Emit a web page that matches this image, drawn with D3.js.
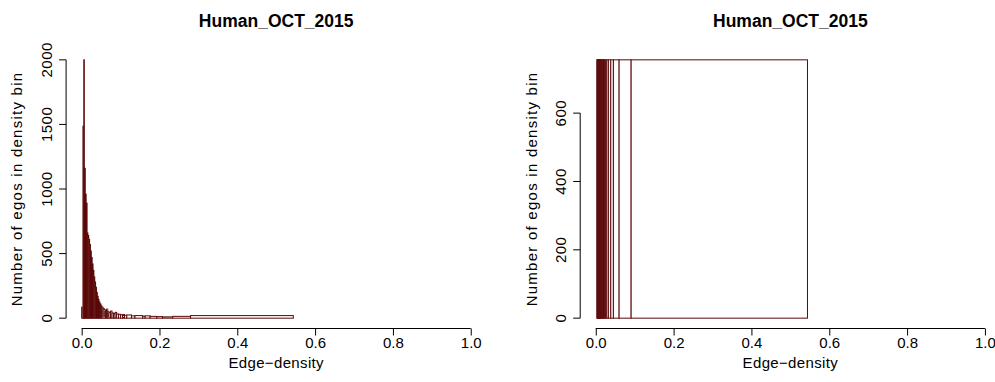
<!DOCTYPE html>
<html>
<head>
<meta charset="utf-8">
<script src="https://cdn.jsdelivr.net/npm/d3@7"></script>
<style>
  html, body { margin: 0; padding: 0; background: #fff; }
  svg { display: block; }
  text { font-family: "Liberation Sans", Arial, sans-serif; fill: #000; }
</style>
</head>
<body>
<svg id="chart" width="995" height="382"></svg>
<script>
// Ego edge-density histograms (Human_OCT_2015)
const chartTitle = "Human_OCT_2015";
const xLabel = "Edge\u2212density";
const yLabel = "Number of egos in density bin";
const xTicks = [0, 0.2, 0.4, 0.6, 0.8, 1.0];

// Left panel: fine bins near zero, widening in the tail
const leftBreaks = [0, 0.0033, 0.0054, 0.0069, 0.0093, 0.0116, 0.0139, 0.0160, 0.0182, 0.0204,
  0.0226, 0.0248, 0.0270, 0.0292, 0.0314, 0.0336, 0.0358, 0.0380, 0.0402, 0.0424,
  0.0446, 0.0470, 0.0495, 0.052, 0.055, 0.058, 0.061, 0.064, 0.067, 0.070,
  0.074, 0.078, 0.082, 0.086, 0.090, 0.095, 0.100, 0.105, 0.110, 0.116,
  0.128, 0.137, 0.157, 0.163, 0.176, 0.193, 0.208, 0.234, 0.280, 0.544];
const leftCounts = [85, 1487, 2000, 1160, 960, 890, 660, 640, 610, 570,
  520, 470, 420, 370, 320, 280, 240, 200, 170, 145,
  125, 110, 95, 85, 75, 65, 58, 70, 50, 45,
  55, 40, 36, 45, 32, 30, 26, 28, 22, 25,
  18, 20, 15, 18, 14, 12, 10, 14, 20];
const leftYTicks = [0, 500, 1000, 1500, 2000];

// Right panel: equal-count bins
const rightBreaks = [0.0026, 0.0040, 0.0050, 0.0058, 0.0065, 0.0072, 0.0079, 0.0086, 0.0093, 0.0101,
  0.0109, 0.0117, 0.0126, 0.0135, 0.0145, 0.0156, 0.0168, 0.0181, 0.0196, 0.0213,
  0.0232, 0.0255, 0.0283, 0.0324, 0.0386, 0.0453, 0.0600, 0.0909, 0.5440];
const rightCounts = [756, 756, 756, 756, 756, 756, 756, 756, 756, 756,
  756, 756, 756, 756, 756, 756, 756, 756, 756, 756,
  756, 756, 756, 756, 756, 756, 756, 756];
const rightYTicks = [0, 200, 400, 600];

const svg = d3.select("#chart");
const barStroke = "#5a0808";
const fontSize = 15;

function drawPanel(left, right, breaks, counts, yTicks) {
  const top = 49.5, bottom = 328.5;
  const x = d3.scaleLinear().domain([-0.04, 1.04]).range([left, right]);
  const yMax = d3.max(counts);
  const y = d3.scaleLinear().domain([-0.04 * yMax, 1.04 * yMax]).range([bottom, top]);
  const g = svg.append("g");

  const bins = counts.map((c, i) => ({ x0: breaks[i], x1: breaks[i + 1], n: c }));
  g.append("g").selectAll("rect").data(bins).join("rect")
    .attr("x", d => x(d.x0))
    .attr("width", d => x(d.x1) - x(d.x0))
    .attr("y", d => y(d.n))
    .attr("height", d => y(0) - y(d.n))
    .attr("fill", "#fff")
    .attr("stroke", barStroke)
    .attr("stroke-width", 1);

  // x axis: line spans first to last tick
  const xAxis = d3.axisBottom(x).tickValues(xTicks).tickFormat(d3.format(".1f"))
    .tickSize(7).tickPadding(2);
  const gx = g.append("g").attr("transform", `translate(0,${bottom})`).call(xAxis);
  gx.select(".domain").remove();
  gx.append("line").attr("x1", x(xTicks[0])).attr("x2", x(xTicks[xTicks.length - 1]))
    .attr("stroke", "#000");
  gx.selectAll(".tick line").attr("stroke", "#000");
  gx.selectAll("text").attr("font-size", fontSize).attr("font-family", "Liberation Sans, Arial, sans-serif")
    .attr("fill", "#000");

  // y axis with rotated labels
  const gy = g.append("g").attr("transform", `translate(${left},0)`);
  gy.append("line").attr("y1", y(yTicks[0])).attr("y2", y(yTicks[yTicks.length - 1]))
    .attr("stroke", "#000");
  gy.selectAll(".yt").data(yTicks).join("line").attr("class", "yt")
    .attr("x1", 0).attr("x2", -7).attr("y1", d => y(d)).attr("y2", d => y(d))
    .attr("stroke", "#000");
  gy.selectAll(".yl").data(yTicks).join("text").attr("class", "yl")
    .attr("transform", d => `translate(-14.4,${y(d)}) rotate(-90)`)
    .attr("text-anchor", "middle").attr("font-size", fontSize)
    .attr("letter-spacing", "0.5px")
    .text(d => d);

  // titles
  const cx = (left + right) / 2;
  g.append("text").attr("x", cx).attr("y", 27).attr("text-anchor", "middle")
    .attr("font-size", 17.5).attr("font-weight", "bold").text(chartTitle);
  g.append("text").attr("x", cx).attr("y", 368).attr("text-anchor", "middle")
    .attr("font-size", fontSize).attr("letter-spacing", "0.35px").text(xLabel);
  g.append("text")
    .attr("transform", `translate(${left - 43.7},${(top + bottom) / 2}) rotate(-90)`)
    .attr("text-anchor", "middle").attr("font-size", fontSize)
    .attr("letter-spacing", "1.25px").text(yLabel);
}

drawPanel(66.1, 486.3, leftBreaks, leftCounts, leftYTicks);
drawPanel(580.2, 1000.5, rightBreaks, rightCounts, rightYTicks);
</script>
</body>
</html>
